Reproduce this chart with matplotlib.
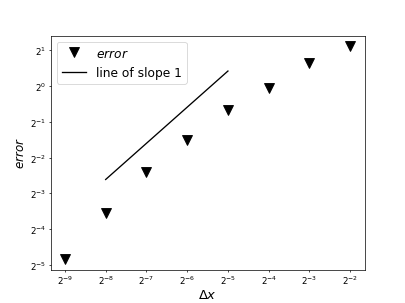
import numpy as np
import matplotlib
matplotlib.use('Agg')
import matplotlib.pyplot as plt

# tamaños de paso y errores (exponentes en base 2)
dx_exp = [-9, -8, -7, -6, -5, -4, -3, -2]
err_exp = [-4.83, -3.56, -2.39, -1.52, -0.66, -0.06, 0.64, 1.11]

# linea de pendiente 1 (extremos)
linea_dx_exp = [-8, -5]
linea_err_exp = [-2.61, 0.42]

dx = 2.0 ** np.array(dx_exp)
err = 2.0 ** np.array(err_exp)
linea_dx = 2.0 ** np.array(linea_dx_exp)
linea_err = 2.0 ** np.array(linea_err_exp)

fig, ax = plt.subplots(figsize=(6.4, 4.8), dpi=405 / 6.4)
ax.plot(dx, err, 'v', color='black', markersize=11, label='$error$')
ax.plot(linea_dx, linea_err, '-', color='black', linewidth=1.5, label='line of slope 1')
ax.set_xscale('log', base=2)
ax.set_yscale('log', base=2)
ax.tick_params(length=2.5, pad=2.5)
ax.set_xlabel(r'$\Delta x$', fontsize=15, labelpad=2)
ax.set_ylabel('$error$', fontsize=13.5, labelpad=3)
ax.legend(loc='upper left', fontsize=14)
fig.savefig('out.png', dpi=405 / 6.4)
